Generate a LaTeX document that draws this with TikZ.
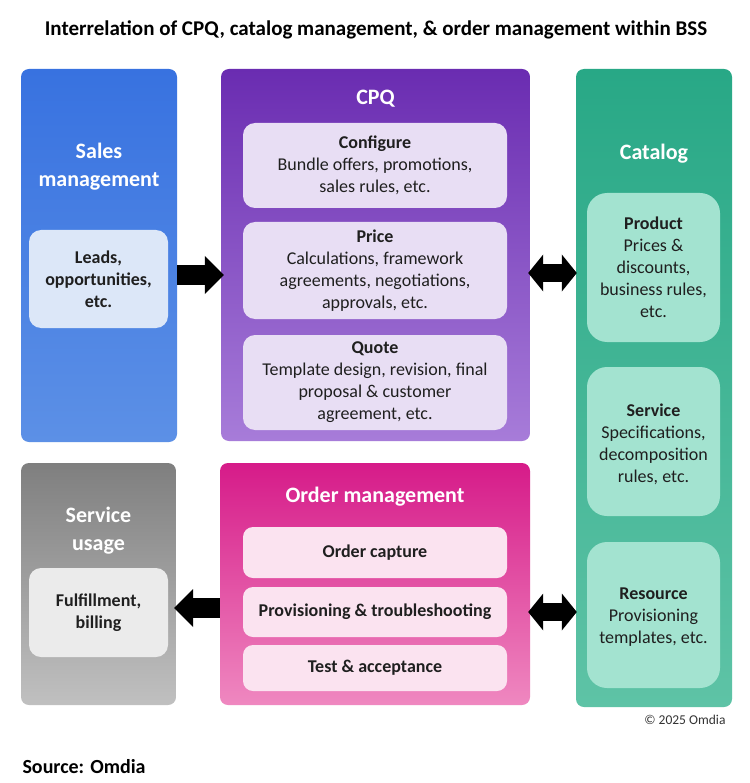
\documentclass[tikz,border=0pt]{standalone}
\usepackage{fontspec}
\setmainfont{Carlito}
\usepackage{tikz}
\usetikzlibrary{arrows.meta,backgrounds,calc,fit}
\definecolor{salesTop}{HTML}{3872E0}
\definecolor{salesBot}{HTML}{5C90E6}
\definecolor{salesIn}{HTML}{DCE7F8}
\definecolor{cpqTop}{HTML}{6A2CB1}
\definecolor{cpqBot}{HTML}{A77CD9}
\definecolor{cpqIn}{HTML}{E8DEF4}
\definecolor{catTop}{HTML}{28A886}
\definecolor{catBot}{HTML}{5EC3A6}
\definecolor{catIn}{HTML}{A3E3D0}
\definecolor{useTop}{HTML}{7F7F7F}
\definecolor{useBot}{HTML}{C0C0C0}
\definecolor{useIn}{HTML}{EBEBEB}
\definecolor{ordTop}{HTML}{D61B89}
\definecolor{ordBot}{HTML}{EF88C0}
\definecolor{ordIn}{HTML}{FBE3F0}

\begin{document}
\begin{tikzpicture}[x=1pt,y=-1pt,
  outer/.style={rounded corners=8pt,inner sep=0pt},
  inner/.style={rounded corners=12pt,inner sep=0pt},
  txt/.style={align=center,inner sep=0pt,text=black!88,font=\fontsize{18}{22}\selectfont},
  txtbf/.style={txt,font=\bfseries\fontsize{18}{22}\selectfont},
  head/.style={text=white,align=center,font=\bfseries\fontsize{22}{28}\selectfont},
  blockarrow/.style={line width=20pt,-{Triangle[length=19pt,width=38pt,line width=0pt]}},
  dblockarrow/.style={line width=18pt,{Triangle[length=15pt,width=37pt,line width=0pt]}-{Triangle[length=15pt,width=37pt,line width=0pt]}}
]
\useasboundingbox[fill=white] (0,0) rectangle (749,783);
\node[font=\bfseries\fontsize{21}{24}\selectfont] (title) at (376,30) {Interrelation of CPQ, catalog management, \& order management within BSS};

\node[outer,top color=salesTop,bottom color=salesBot,fit={(21,69) (177,442)}] (sales) {};
\node[head] (salesT) at (99,167) {Sales\\management};
\node[inner,fill=salesIn,fit={(29,230) (168,328)}] (leads) {};
\node[txtbf] (leadsT) at (leads) {Leads,\\opportunities,\\etc.};

\node[outer,top color=cpqTop,bottom color=cpqBot,fit={(221,69) (530,441)}] (cpq) {};
\node[head] (cpqT) at (375.5,99) {CPQ};
\node[inner,fill=cpqIn,fit={(243,123) (507,208)}] (configure) {};
\node[txt] (configureT) at (configure) {\textbf{Configure}\\Bundle offers, promotions,\\sales rules, etc.};
\node[inner,fill=cpqIn,fit={(243,222) (507,319)}] (price) {};
\node[txt] (priceT) at (price) {\textbf{Price}\\Calculations, framework\\agreements, negotiations,\\approvals, etc.};
\node[inner,fill=cpqIn,fit={(243,335) (507,430)}] (quote) {};
\node[txt] (quoteT) at (quote) {\textbf{Quote}\\Template design, revision, final\\proposal \& customer\\agreement, etc.};

\node[outer,top color=catTop,bottom color=catBot,fit={(576,69) (732,707)}] (catalog) {};
\node[head] (catalogT) at (654,154) {Catalog};
\node[inner,rounded corners=20pt,fill=catIn,fit={(587,193) (720,342)}] (product) {};
\node[txt] (productT) at (product) {\textbf{Product}\\Prices \&\\discounts,\\business rules,\\etc.};
\node[inner,rounded corners=20pt,fill=catIn,fit={(587,367) (720,516)}] (service) {};
\node[txt] (serviceT) at ($(service)+(0,3)$) {\textbf{Service}\\Specifications,\\decomposition\\rules, etc.};
\node[inner,rounded corners=20pt,fill=catIn,fit={(587,542) (720,688)}] (resource) {};
\node[txt] (resourceT) at ($(resource)+(0,2)$) {\textbf{Resource}\\Provisioning\\templates, etc.};

\node[outer,top color=useTop,bottom color=useBot,fit={(21,463) (176,705)}] (usage) {};
\node[head] (usageT) at (98.5,531) {Service\\usage};
\node[inner,fill=useIn,fit={(29,568) (168,657)}] (fulfil) {};
\node[txtbf] (fulfilT) at (fulfil) {Fulfillment,\\billing};

\node[outer,top color=ordTop,bottom color=ordBot,fit={(220,463) (530,705)}] (order) {};
\node[head] (orderT) at (375,497) {Order management};
\node[inner,rounded corners=10pt,fill=ordIn,fit={(243,527) (507,578)}] (capture) {};
\node[txtbf] (captureT) at (capture) {Order capture};
\node[inner,rounded corners=10pt,fill=ordIn,fit={(243,587) (507,637)}] (prov) {};
\node[txtbf] (provT) at (prov) {Provisioning \& troubleshooting};
\node[inner,rounded corners=10pt,fill=ordIn,fit={(243,645) (507,691)}] (test) {};
\node[txtbf] (testT) at (test) {Test \& acceptance};

\draw[blockarrow] ($(sales.east |- price)+(0,4.5)$) -- ($(cpq.west |- price)+(3,4.5)$);
\draw[dblockarrow] ($(cpq.east |- price)+(-2,2.5)$) -- ($(catalog.west |- price)+(1,2.5)$);
\draw[blockarrow] ($(order.west |- prov)+(0,-4)$) -- ($(usage.east |- prov)+(-2,-4)$);
\draw[dblockarrow] ($(order.east |- prov)+(-2,0)$) -- ($(catalog.west |- prov)+(1,0)$);

\node[anchor=east,font=\fontsize{13.5}{16}\selectfont,text=black!80] (copy) at (729,720) {© 2025 Omdia};
\node[anchor=west,font=\bfseries\fontsize{20}{24}\selectfont] (source) at (19,767) {Source: Omdia};
\end{tikzpicture}
\end{document}
